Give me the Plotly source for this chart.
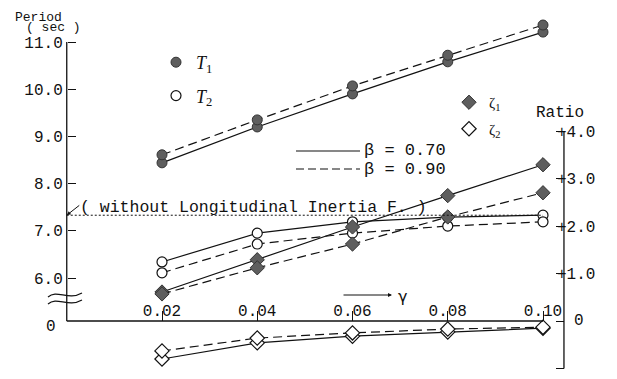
import plotly.graph_objects as go

# ---------------- data ----------------
gamma = [0.02, 0.04, 0.06, 0.08, 0.10]
gamma_ticks = ["0.02", "0.04", "0.06", "0.08", "0.10"]

# natural periods (sec) -- left axis
T1_beta070 = [8.44, 9.20, 9.90, 10.58, 11.21]
T1_beta090 = [8.61, 9.35, 10.07, 10.72, 11.36]
T2_beta070 = [6.34, 6.95, 7.19, 7.29, 7.33]
T2_beta090 = [6.11, 6.72, 6.95, 7.10, 7.19]

# ratios -- right axis
zeta1_beta070 = [0.61, 1.29, 1.98, 2.64, 3.29]
zeta1_beta090 = [0.57, 1.12, 1.62, 2.19, 2.70]
zeta2_beta070 = [-0.80, -0.46, -0.32, -0.23, -0.15]
zeta2_beta090 = [-0.63, -0.36, -0.25, -0.17, -0.13]

period_no_inertia = 7.33  # "without Longitudinal Inertia F."

period_ticks = [6.0, 7.0, 8.0, 9.0, 10.0, 11.0]
period_ticktext = ["6.0", "7.0", "8.0", "9.0", "10.0", "11.0"]
ratio_ticks = [-1.0, 0.0, 1.0, 2.0, 3.0, 4.0]
ratio_ticktext = ["-1.0", "", "+1.0", "+2.0", "+3.0", "+4.0"]

# ---------------- layout calibration (screen pixels) ----------------
W, H = 617, 379
OFF = 8                      # page margin around the figure
FW, FH = W - OFF, H - OFF    # figure size


def lin_range(px_a, val_a, px_b, val_b, length):
    k = (val_b - val_a) / (px_b - px_a)
    return val_a + (0 - (px_a - OFF)) * k, val_a + (length - (px_a - OFF)) * k


X_RANGE = list(lin_range(162, 0.02, 543, 0.10, FW))
P_RANGE = sorted(lin_range(278, 6.0, 42, 11.0, FH))
R_RANGE = sorted(lin_range(321, 0.0, 131, 4.0, FH))
X_RIGHT_AXIS = 0.1044

zero_frac = (0 - R_RANGE[0]) / (R_RANGE[1] - R_RANGE[0])
PERIOD_ZERO = P_RANGE[0] + zero_frac * (P_RANGE[1] - P_RANGE[0])


def xfrac(v):
    return (v - X_RANGE[0]) / (X_RANGE[1] - X_RANGE[0])


def pxx(p):
    return (p - OFF) / FW


def pxy(p):
    return 1 - (p - OFF) / FH


MONO = "Liberation Mono"
SERIF = "Liberation Serif"
BLACK = "#111111"
FILL = "#5e5e5e"
DASH = "9px,5px"

fig = go.Figure()

filled_circle = dict(symbol="circle", size=10, color=FILL, line=dict(color="#333333", width=1))
open_circle = dict(symbol="circle", size=10, color="white", line=dict(color=BLACK, width=1.2))
filled_diamond = dict(symbol="diamond", size=11, color=FILL, line=dict(color="#333333", width=1))
open_diamond = dict(symbol="diamond", size=11, color="white", line=dict(color=BLACK, width=1.2))

series = [
    (T1_beta070, "y", None, filled_circle),
    (T1_beta090, "y", DASH, filled_circle),
    (T2_beta070, "y", None, open_circle),
    (T2_beta090, "y", DASH, open_circle),
    (zeta1_beta070, "y2", None, filled_diamond),
    (zeta1_beta090, "y2", DASH, filled_diamond),
    (zeta2_beta070, "y2", None, open_diamond),
    (zeta2_beta090, "y2", DASH, open_diamond),
]
for vals, yax, dash, mk in series:
    fig.add_trace(go.Scatter(
        x=gamma, y=vals, yaxis=yax, mode="lines+markers",
        line=dict(color=BLACK, width=1.2, dash=dash if dash else "solid"),
        marker=mk, showlegend=False, cliponaxis=False,
    ))

# legend keys (legend-only traces)
for i, (name, mk) in enumerate([("<i>T</i><sub>1</sub>", filled_circle),
                                ("<i>T</i><sub>2</sub>", open_circle)]):
    fig.add_trace(go.Scatter(x=[None], y=[None], mode="markers", marker=mk,
                             name=name, legend="legend", legendgroup=f"t{i}"))
for i, (name, mk) in enumerate([("\u03b6<sub>1</sub>", filled_diamond),
                                ("\u03b6<sub>2</sub>", open_diamond)]):
    fig.add_trace(go.Scatter(x=[None], y=[None], mode="markers", marker=mk,
                             name=name, legend="legend2", legendgroup=f"z{i}"))

shapes = []
shapes.append(dict(type="line", xref="x", yref="y", x0=0, x1=0,
                   y0=PERIOD_ZERO, y1=period_ticks[-1], line=dict(color=BLACK, width=1.3)))
shapes.append(dict(type="line", xref="x", yref="y2", x0=X_RIGHT_AXIS, x1=X_RIGHT_AXIS,
                   y0=ratio_ticks[0], y1=ratio_ticks[-1], line=dict(color=BLACK, width=1.3)))
shapes.append(dict(type="line", xref="x", yref="y2", x0=0, x1=gamma[-1],
                   y0=0, y1=0, line=dict(color=BLACK, width=1.3)))
shapes.append(dict(type="line", xref="x", yref="y", x0=0, x1=gamma[-1],
                   y0=period_no_inertia, y1=period_no_inertia,
                   line=dict(color=BLACK, width=1, dash="2px,2px")))
# beta key lines
shapes.append(dict(type="line", xref="paper", yref="paper", x0=pxx(296), x1=pxx(360),
                   y0=pxy(151), y1=pxy(151), line=dict(color=BLACK, width=1.1)))
shapes.append(dict(type="line", xref="paper", yref="paper", x0=pxx(296), x1=pxx(360),
                   y0=pxy(169), y1=pxy(169), line=dict(color=BLACK, width=1.1, dash="8px,4px")))


# axis-break wavy marks
def wave(yc):
    pts = [(48, yc + 2), (57, yc - 6), (68, yc + 6), (82, yc - 2)]
    (x0, y0), (x1, y1), (x2, y2), (x3, y3) = [(pxx(a), pxy(b)) for a, b in pts]
    return f"M {x0},{y0} C {x1},{y1} {x2},{y2} {x3},{y3}"


for yc in (295, 302):
    shapes.append(dict(type="path", xref="paper", yref="paper", path=wave(yc),
                       line=dict(color=BLACK, width=1.2)))

ann = []


def text(s, x, y, size=16, xanchor="left", family=MONO, yanchor="middle"):
    ann.append(dict(text=s, x=pxx(x), y=pxy(y), xref="paper", yref="paper",
                    xanchor=xanchor, yanchor=yanchor, showarrow=False,
                    font=dict(family=family, size=size, color=BLACK)))


text("Period", 13, 8, 13, yanchor="top")
text("( sec )", 24, 27, 13)
text("Ratio", 534, 113, 16)
text("\u03b2 = 0.70", 362, 150, 17)
text("\u03b2 = 0.90", 362, 169, 17)
text("( without Longitudinal Inertia F. )", 78, 207, 16.5)
text("\u03b3", 396, 296, 16, family="DejaVu Sans")
text("0", 44, 327, 16)            # period-axis zero below the break
text("0", 572, 321, 16)           # ratio-axis zero
ann.append(dict(text="", x=0, y=period_no_inertia, xref="x", yref="y", ax=14, ay=-11,
                showarrow=True, arrowhead=2, arrowsize=0.8, arrowwidth=1, arrowcolor=BLACK))
ann.append(dict(text="", x=pxx(392), y=pxy(295), xref="paper", yref="paper", ax=-50, ay=0,
                showarrow=True, arrowhead=2, arrowsize=0.8, arrowwidth=1, arrowcolor=BLACK))

fig.update_layout(
    width=FW, height=FH, autosize=False,
    margin=dict(l=0, r=0, t=0, b=0),
    paper_bgcolor="white", plot_bgcolor="white",
    shapes=shapes, annotations=ann,
    xaxis=dict(range=X_RANGE, showgrid=False, zeroline=False, showline=False,
               anchor="free", position=zero_frac, side="top",
               tickvals=gamma, ticktext=gamma_ticks, ticks="outside", ticklen=10,
               tickcolor=BLACK, tickwidth=1.2, ticklabelstandoff=-11,
               tickfont=dict(family=MONO, size=16, color=BLACK)),
    yaxis=dict(range=P_RANGE, showgrid=False, zeroline=False, showline=False,
               anchor="free", position=xfrac(0), side="left",
               tickvals=period_ticks, ticktext=period_ticktext,
               ticks="inside", ticklen=8, tickcolor=BLACK, tickwidth=1.2,
               ticklabelstandoff=4,
               tickfont=dict(family=MONO, size=16, color=BLACK)),
    yaxis2=dict(range=R_RANGE, showgrid=False, zeroline=False, showline=False,
                overlaying="y", anchor="free", position=xfrac(X_RIGHT_AXIS), side="right",
                tickvals=ratio_ticks, ticktext=ratio_ticktext,
                ticks="inside", ticklen=8, tickcolor=BLACK, tickwidth=1.2,
                ticklabelstandoff=-8,
                tickfont=dict(family=MONO, size=16, color=BLACK)),
    legend=dict(x=pxx(156), y=pxy(44), xanchor="left", yanchor="top",
                bgcolor="rgba(0,0,0,0)", tracegroupgap=7,
                font=dict(family=SERIF, size=18, color=BLACK)),
    legend2=dict(x=pxx(449), y=pxy(86), xanchor="left", yanchor="top",
                 bgcolor="rgba(0,0,0,0)", tracegroupgap=4,
                 font=dict(family=SERIF, size=15, color=BLACK)),
)

fig.write_html("out.html")
